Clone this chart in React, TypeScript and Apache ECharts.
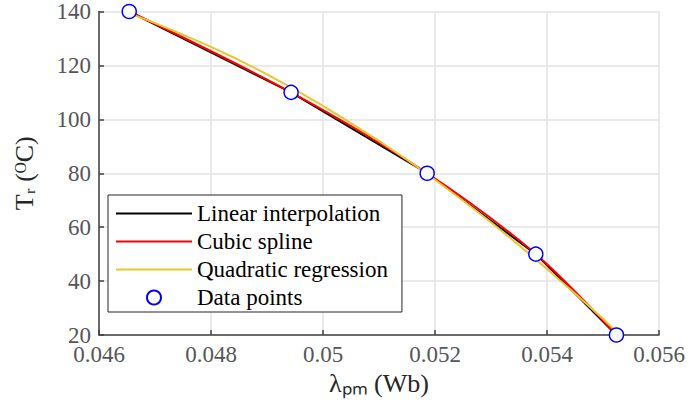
import React, { useEffect, useRef } from "react";
import * as echarts from "echarts";

// Data points (flux linkage in Wb, rotor temperature in °C)
const lambdaPm = [0.04654, 0.04943, 0.05186, 0.0538, 0.05524];
const tempR = [140, 110, 80, 50, 20];

// Quadratic regression curve
const quadX = [0.04654, 0.047, 0.0475, 0.048, 0.0485, 0.049, 0.0495, 0.05, 0.0505, 0.051, 0.0515, 0.052, 0.0525, 0.053, 0.0535, 0.054, 0.0545, 0.055, 0.05524];
const quadY = [139.4, 135.7, 131.4, 126.9, 122.0, 116.7, 111.0, 105.0, 98.6, 92.0, 85.0, 77.6, 69.9, 61.8, 53.3, 44.5, 35.4, 26.0, 21.2];

const seriesNames = ["Linear interpolation", "Cubic spline", "Quadratic regression", "Data points"];
const xName = "λₚₘ (Wb)";
const yName = "Tᵣ (ᴼC)";
const xMin = 0.046, xMax = 0.056, xStep = 0.002;
const yMin = 20, yMax = 140, yStep = 20;

const FONT = "Liberation Serif";
const TXT = "#262626";
const LINE_ICON = "path://M0,0L76,0L76,2L0,2Z";

export default function App() {
  const ref = useRef<HTMLDivElement>(null);
  useEffect(() => {
    if (!ref.current) return;
    const chart = echarts.init(ref.current, undefined, { renderer: "svg" });
    const pts = lambdaPm.map((x, i) => [x, tempR[i]]);
    const quad = quadX.map((x, i) => [x, quadY[i]]);
    chart.setOption({
      animation: false,
      grid: { left: 99, right: 32, top: 11, bottom: 81 },
      xAxis: {
        type: "value",
        min: xMin,
        max: xMax,
        interval: xStep,
        name: xName,
        nameLocation: "middle",
        nameGap: 28,
        nameTextStyle: { fontFamily: FONT, fontSize: 26, fontWeight: "normal", fontStyle: "normal", color: TXT },
        axisLine: { show: true, lineStyle: { color: "#404040", width: 1.5 } },
        axisTick: { show: true, inside: true, length: 5, lineStyle: { color: "#404040", width: 1.5 } },
        axisLabel: {
          fontSize: 23,
          fontFamily: FONT,
          fontWeight: "normal",
          fontStyle: "normal",
          formatter: (v: number) => String(+v.toFixed(3)),
        },
        splitLine: { show: true, lineStyle: { color: "#e3e3e3", width: 1.5 } },
      },
      yAxis: {
        type: "value",
        min: yMin,
        max: yMax,
        interval: yStep,
        name: yName,
        nameLocation: "middle",
        nameRotate: 90,
        nameGap: 62,
        nameTextStyle: { fontFamily: FONT, fontSize: 26, fontWeight: "normal", fontStyle: "normal", color: TXT },
        axisLine: { show: true, lineStyle: { color: "#404040", width: 1.5 } },
        axisTick: { show: true, inside: true, length: 5, lineStyle: { color: "#404040", width: 1.5 } },
        axisLabel: { fontSize: 23, fontFamily: FONT, fontWeight: "normal", fontStyle: "normal" },
        splitLine: { show: true, lineStyle: { color: "#e3e3e3", width: 1.5 } },
      },
      legend: {
        orient: "vertical",
        left: 108,
        top: 195,
        data: [
          { name: seriesNames[0], icon: LINE_ICON },
          { name: seriesNames[1], icon: LINE_ICON },
          { name: seriesNames[2], icon: LINE_ICON },
          { name: seriesNames[3], icon: "circle" },
        ],
        backgroundColor: "#ffffff",
        borderColor: "#262626",
        borderWidth: 1,
        borderRadius: 0,
        padding: [7, 14, 3, 8],
        itemWidth: 76,
        itemHeight: 14,
        itemGap: 5,
        itemTextGap: 7,
        textStyle: { fontSize: 23, fontFamily: FONT, color: "#000", lineHeight: 23 },
      },
      series: [
        {
          name: seriesNames[0],
          type: "line",
          data: pts,
          showSymbol: false,
          symbol: "none",
          lineStyle: { color: "#000000", width: 2 },
          itemStyle: { color: "#000000" },
          z: 2,
        },
        {
          name: seriesNames[1],
          type: "line",
          data: pts,
          smooth: 0.35,
          showSymbol: false,
          symbol: "none",
          lineStyle: { color: "#ff0000", width: 2 },
          itemStyle: { color: "#ff0000" },
          z: 3,
        },
        {
          name: seriesNames[2],
          type: "line",
          data: quad,
          showSymbol: false,
          symbol: "none",
          lineStyle: { color: "#e8c830", width: 2 },
          itemStyle: { color: "#e8c830" },
          z: 4,
        },
        {
          name: seriesNames[3],
          type: "scatter",
          data: pts,
          symbol: "circle",
          symbolSize: 14,
          itemStyle: { color: "#ffffff", borderColor: "#0000ff", borderWidth: 1.5, opacity: 1 },
          z: 5,
        },
      ],
    });
    return () => chart.dispose();
  }, []);
  return (
    <div
      ref={ref}
      style={{ position: "fixed", left: 0, top: 0, width: 691, height: 416, background: "#fff" }}
    />
  );
}
